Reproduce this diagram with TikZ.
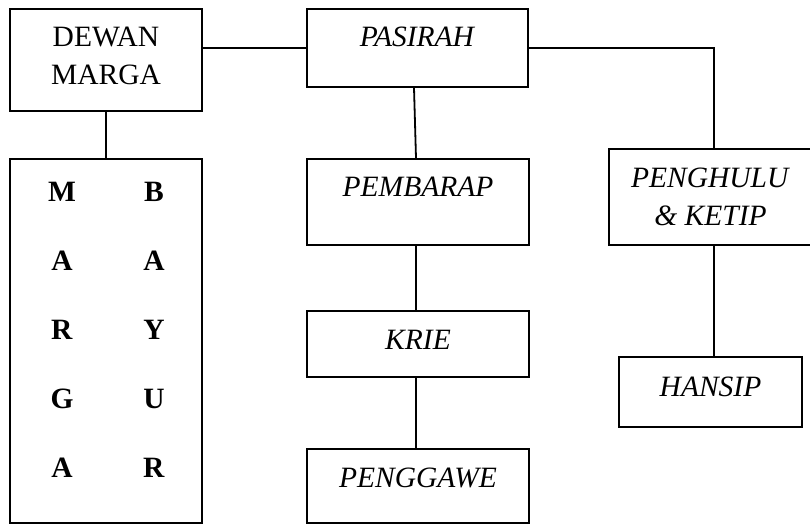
\documentclass[tikz,border=0pt]{standalone}
\usepackage{fontspec}
\setmainfont{Liberation Serif}
\usetikzlibrary{positioning}

\tikzset{
	box/.style={draw, line width=1.8pt, inner sep=0pt},
	lbl/.style={inner sep=0pt, align=center, font=\fontsize{29.5}{38}\selectfont},
	link/.style={line width=1.8pt}
}

\begin{document}
\begin{tikzpicture}[x=1pt,y=-1pt]
	\useasboundingbox (0,0) rectangle (810,525);
	% boxes
	\node[box, minimum width=192pt, minimum height=102pt] (dewan) at (106,60) {};
	\node[box, minimum width=221pt, minimum height=78pt] (pasirah) at (417.5,48) {};
	\node[box, minimum width=192pt, minimum height=364pt] (marga) at (106,341) {};
	\node[box, minimum width=222pt, minimum height=86pt] (pembarap) at (418,202) {};
	\node[box, minimum width=222pt, minimum height=66pt] (krie) at (418,344) {};
	\node[box, minimum width=222pt, minimum height=74pt] (penggawe) at (418,486) {};
	\node[box, minimum width=203pt, minimum height=96pt] (penghulu) at (710.5,197) {};
	\node[box, minimum width=183pt, minimum height=70pt] (hansip) at (710.5,392) {};
	% texts
	\node[lbl] (t-dewan) at (106,56) {DEWAN\\MARGA};
	\node[lbl] (t-pasirah) at (417.5,37) {\textit{PASIRAH}};
	\node[lbl] (t-pembarap) at (418,187) {\textit{PEMBARAP}};
	\node[lbl] (t-krie) at (418,340) {\textit{KRIE}};
	\node[lbl] (t-penggawe) at (418,478) {\textit{PENGGAWE}};
	\node[lbl] (t-penghulu) at (710.5,197) {\textit{PENGHULU}\\\textit{\& KETIP}};
	\node[lbl] (t-hansip) at (710.5,387) {\textit{HANSIP}};
	\foreach \ch [count=\i] in {M,A,R,G,A}
		\node[lbl] (m\i) at (62,{192+69*(\i-1)}) {\textbf{\ch}};
	\foreach \ch [count=\i] in {B,A,Y,U,R}
		\node[lbl] (b\i) at (154,{192+69*(\i-1)}) {\textbf{\ch}};
	% connectors
	\coordinate (bend) at (714,48);
	\draw[link] (pasirah.west -| dewan.east) -- (pasirah.west);
	\draw[link] (dewan.south) -- (marga.north);
	\draw[link] (pasirah.east) -- (bend) -- (bend |- penghulu.north);
	\draw[link] ([xshift=-3.5pt]pasirah.south) -- ([xshift=-2pt]pembarap.north);
	\draw[link] ([xshift=-2pt]pembarap.south) -- ([xshift=-2pt]krie.north);
	\draw[link] ([xshift=-2pt]krie.south) -- ([xshift=-2pt]penggawe.north);
	\draw[link] (bend |- penghulu.south) -- (bend |- hansip.north);
\end{tikzpicture}
\end{document}
